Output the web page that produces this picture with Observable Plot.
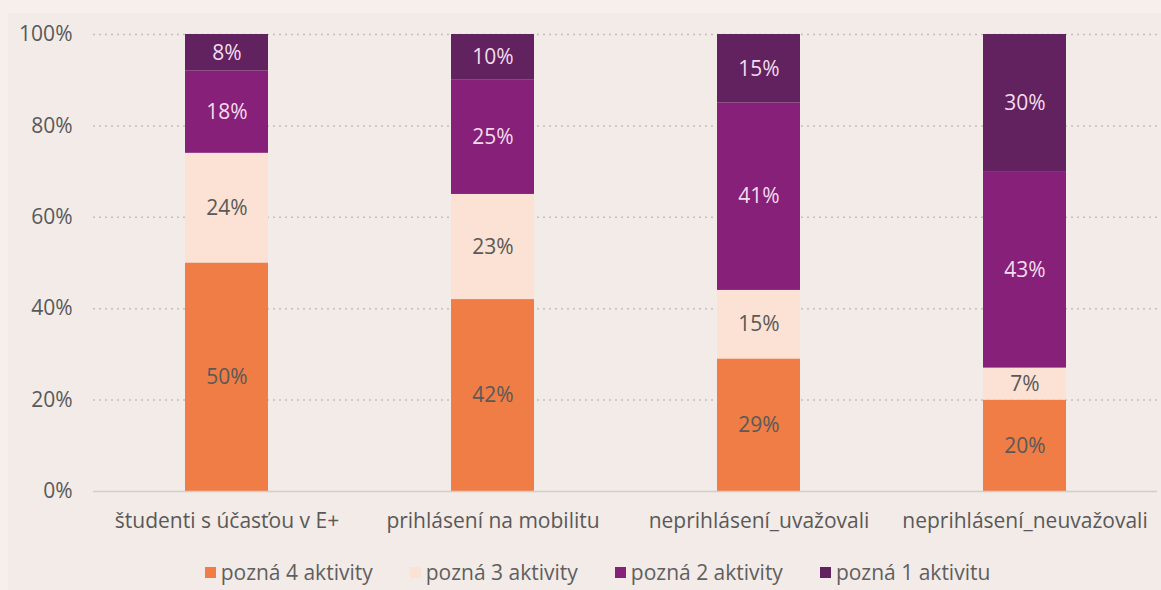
<!DOCTYPE html>
<html>
<head>
<meta charset="utf-8">
<script src="https://cdn.jsdelivr.net/npm/d3@7"></script>
<script src="https://cdn.jsdelivr.net/npm/@observablehq/plot@0.6"></script>
<style>
  html, body { margin: 0; padding: 0; background: #f6efeb; }
  #wrap { position: relative; width: 1161px; height: 590px; overflow: hidden; }
  #panel { position: absolute; left: 8px; top: 13px; width: 1153px; height: 577px; background: #f3ebe7; }
  #chart { position: absolute; left: 0; top: 0; }
  #legend { position: absolute; left: 17px; top: 558px; width: 1161px; display: flex; justify-content: center; gap: 37px;
    font-family: "Open Sans", "Liberation Sans", sans-serif; font-size: 21px; color: #5f5f5f; }
  .item { display: flex; align-items: center; gap: 5px; }
  .sw { width: 11px; height: 11px; display: inline-block; }
</style>
</head>
<body>
<div id="wrap">
  <div id="panel"></div>
  <div id="chart"></div>
  <div id="legend"></div>
</div>
<script>
const categories = ["študenti s účasťou v E+", "prihlásení na mobilitu", "neprihlásení_uvažovali", "neprihlásení_neuvažovali"];
const seriesNames = ["pozná 4 aktivity", "pozná 3 aktivity", "pozná 2 aktivity", "pozná 1 aktivitu"];
const pozna4 = [50, 42, 29, 20];
const pozna3 = [24, 23, 15, 7];
const pozna2 = [18, 25, 41, 43];
const pozna1 = [8, 10, 15, 30];
const colors = ["#ef7d45", "#fbe2d4", "#862079", "#62215f"];
const labelColors = ["#595959", "#595959", "#f3dcec", "#f3dcec"];
const yTicks = [0, 20, 40, 60, 80, 100];

const seriesValues = [pozna4, pozna3, pozna2, pozna1];
const rows = [];
categories.forEach((c, i) => {
  let base = 0;
  seriesValues.forEach((vals, s) => {
    const v = vals[i];
    rows.push({cat: c, series: seriesNames[s], value: v, y1: base, y2: base + v, mid: base + v / 2, lc: labelColors[s]});
    base += v;
  });
});

const plot = Plot.plot({
  width: 1161,
  height: 545,
  marginTop: 34,
  marginBottom: 54,
  marginLeft: 93,
  marginRight: 4,
  style: {background: "transparent", fontFamily: "'Open Sans', 'Liberation Sans', sans-serif", fontSize: "21px", color: "#595959"},
  x: {domain: categories, paddingInner: 0.688, paddingOuter: 0.344, label: null, tickSize: 0, tickPadding: 22},
  y: {domain: [0, 100], ticks: yTicks, tickFormat: d => d + "%", label: null, tickSize: 0, tickPadding: 21},
  color: {domain: seriesNames, range: colors},
  marks: [
    Plot.ruleY(yTicks.filter(d => d > 0), {stroke: "#c4bfbd", strokeDasharray: "2,4", strokeWidth: 1.5}),
    Plot.barY(rows, {x: "cat", y1: "y1", y2: "y2", fill: "series", inset: 0}),
    Plot.ruleY([0], {stroke: "#cfcfcf", strokeWidth: 1.5}),
    Plot.text(rows, {x: "cat", y: "mid", text: d => d.value + "%", fill: "lc", fontSize: 21})
  ]
});
document.getElementById("chart").appendChild(plot);

const legend = document.getElementById("legend");
seriesNames.forEach((n, i) => {
  const it = document.createElement("div");
  it.className = "item";
  const sw = document.createElement("span");
  sw.className = "sw";
  sw.style.background = colors[i];
  const t = document.createElement("span");
  t.textContent = n;
  it.appendChild(sw); it.appendChild(t);
  legend.appendChild(it);
});
</script>
</body>
</html>
